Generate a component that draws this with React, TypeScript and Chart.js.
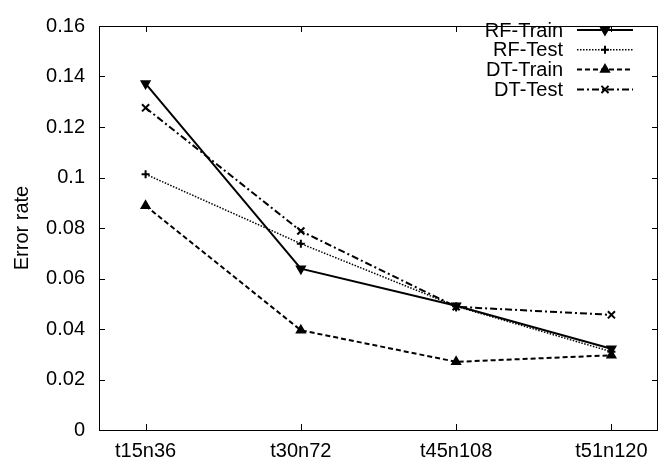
import React, { useEffect, useRef } from "react";
import { Chart, registerables } from "chart.js";
import { drawPoint } from "chart.js/helpers";

Chart.register(...registerables);

const categories = ["t15n36", "t30n72", "t45n108", "t51n120"];
const rfTrain = [0.1372, 0.0639, 0.0492, 0.0322];
const rfTest = [0.1013, 0.0738, 0.049, 0.031];
const dtTrain = [0.0888, 0.0395, 0.027, 0.0296];
const dtTest = [0.1276, 0.0788, 0.0488, 0.0456];
const yTicks = [0, 0.02, 0.04, 0.06, 0.08, 0.1, 0.12, 0.14, 0.16];
const seriesNames = ["RF-Train", "RF-Test", "DT-Train", "DT-Test"];

const FONT = "'Liberation Sans', Arial, Helvetica, sans-serif";
const FS = 20;

const styles = [
  { dash: [] as number[], width: 2, point: "triangle", rot: 180, r: 5, pbw: 1.5 },
  { dash: [1.5, 1.5], width: 1.5, point: "cross", rot: 0, r: 4, pbw: 2 },
  { dash: [5, 3], width: 2, point: "triangle", rot: 0, r: 5, pbw: 1.5 },
  { dash: [7, 3, 2, 3], width: 2, point: "crossRot", rot: 0, r: 5, pbw: 2 },
];

const seriesData = [rfTrain, rfTest, dtTrain, dtTest];

const framePlugin = {
  id: "gnuplotFrame",
  afterDraw(chart: any) {
    const ctx = chart.ctx;
    const a = chart.chartArea;
    const xs = chart.scales.x;
    const ys = chart.scales.y;
    ctx.save();
    ctx.strokeStyle = "#000";
    ctx.lineWidth = 1;
    ctx.setLineDash([]);
    ctx.strokeRect(a.left + 0.5, a.top + 0.5, a.right - a.left - 1, a.bottom - a.top);
    const tl = 6;
    ctx.beginPath();
    yTicks.forEach((v) => {
      const y = Math.round(ys.getPixelForValue(v)) + 0.5;
      ctx.moveTo(a.left, y);
      ctx.lineTo(a.left + tl, y);
      ctx.moveTo(a.right, y);
      ctx.lineTo(a.right - tl, y);
    });
    categories.forEach((_, i) => {
      const x = Math.round(xs.getPixelForValue(i)) + 0.5;
      ctx.moveTo(x, a.bottom);
      ctx.lineTo(x, a.bottom - tl);
      ctx.moveTo(x, a.top);
      ctx.lineTo(x, a.top + tl);
    });
    ctx.stroke();

    // y axis title
    ctx.save();
    ctx.translate(22, (a.top + a.bottom) / 2);
    ctx.rotate(-Math.PI / 2);
    ctx.font = `${FS}px ${FONT}`;
    ctx.fillStyle = "#000";
    ctx.textAlign = "center";
    ctx.textBaseline = "middle";
    ctx.fillText("Error rate", 0, 0);
    ctx.restore();

    // legend
    const textRight = 563;
    const lineL = 577;
    const lineR = 633;
    const mx = 605;
    seriesNames.forEach((name, i) => {
      const y = 30 + i * 19.8;
      const st = styles[i];
      ctx.font = `${FS}px ${FONT}`;
      ctx.fillStyle = "#000";
      ctx.textAlign = "right";
      ctx.textBaseline = "middle";
      ctx.fillText(name, textRight, y + 1);
      ctx.beginPath();
      ctx.lineWidth = st.width;
      ctx.setLineDash(st.dash);
      ctx.moveTo(lineL, y);
      ctx.lineTo(lineR, y);
      ctx.stroke();
      ctx.setLineDash([]);
      ctx.lineWidth = st.pbw;
      ctx.fillStyle = "#000";
      drawPoint(ctx, { pointStyle: st.point, rotation: st.rot, radius: st.r, borderWidth: st.pbw } as any, mx, y);
    });
    ctx.restore();
  },
};

export default function App() {
  const ref = useRef<HTMLCanvasElement>(null);
  useEffect(() => {
    if (!ref.current) return;
    const chart = new Chart(ref.current, {
      type: "line",
      data: {
        datasets: seriesData.map((vals, i) => ({
          label: seriesNames[i],
          data: vals.map((v, j) => ({ x: j, y: v })),
          borderColor: "#000",
          backgroundColor: "#000",
          borderWidth: styles[i].width,
          borderDash: styles[i].dash,
          pointStyle: styles[i].point as any,
          pointRotation: styles[i].rot,
          pointRadius: styles[i].r,
          pointBorderWidth: styles[i].pbw,
          pointBackgroundColor: "#000",
          pointBorderColor: "#000",
          tension: 0,
          fill: false,
        })),
      },
      options: {
        animation: false,
        responsive: false,
        devicePixelRatio: 1,
        layout: { padding: { top: 11, right: 9, left: 0, bottom: 0 } },
        plugins: { legend: { display: false }, tooltip: { enabled: false } },
        scales: {
          x: {
            type: "linear",
            min: -0.3,
            max: 3.3,
            afterBuildTicks: (s: any) => {
              s.ticks = categories.map((_, i) => ({ value: i }));
            },
            afterFit: (s: any) => {
              s.height = 31;
            },
            ticks: {
              autoSkip: false,
              maxRotation: 0,
              padding: 9,
              color: "#000",
              font: { family: FONT, size: FS },
              callback: (v: any) => categories[Math.round(Number(v))] ?? "",
            },
            grid: { display: false, drawTicks: false },
            border: { display: false },
          },
          y: {
            min: 0,
            max: 0.16,
            afterBuildTicks: (s: any) => {
              s.ticks = yTicks.map((v) => ({ value: v }));
            },
            afterFit: (s: any) => {
              s.width = 99;
            },
            ticks: {
              padding: 14,
              color: "#000",
              font: { family: FONT, size: FS },
              callback: (v: any) => String(Number(Number(v).toFixed(2))),
            },
            grid: { display: false, drawTicks: false },
            border: { display: false },
          },
        },
      },
      plugins: [framePlugin],
    });
    return () => chart.destroy();
  }, []);
  return (
    <div style={{ position: "absolute", left: 0, top: 0, width: 667, height: 461, background: "#fff" }}>
      <canvas ref={ref} width={667} height={461} style={{ width: 667, height: 461, display: "block" }} />
    </div>
  );
}
